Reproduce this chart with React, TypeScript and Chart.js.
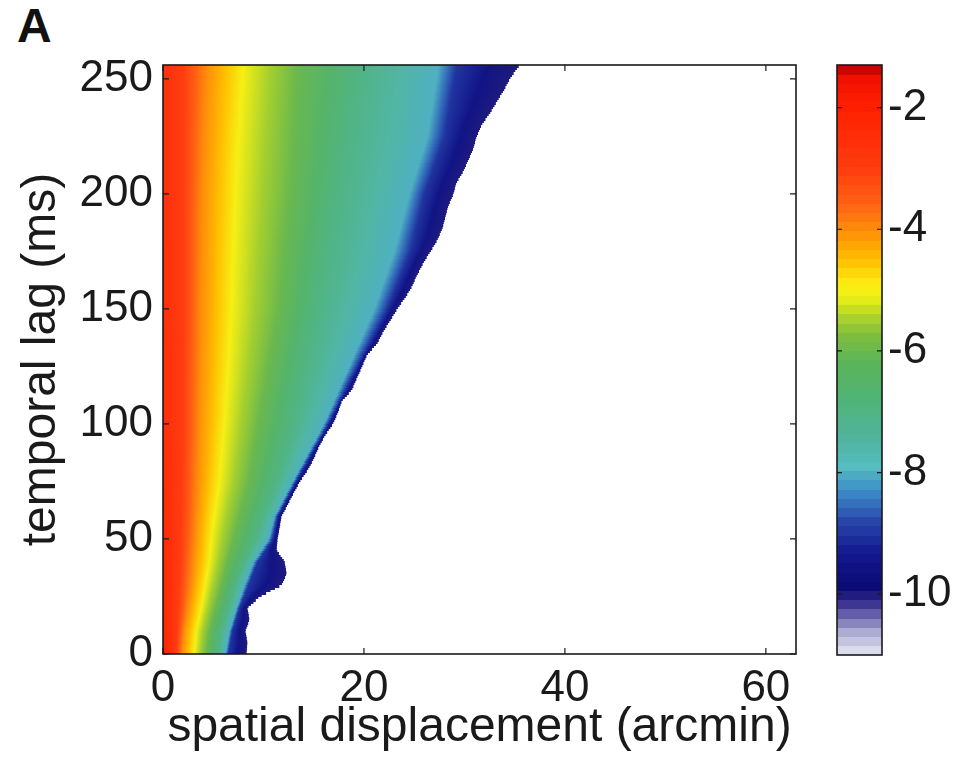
import React, { useEffect, useRef } from 'react';
import { Chart, registerables } from 'chart.js';

Chart.register(...registerables);

// ---------- axes ----------
const X_TICKS = [0, 20, 40, 60];
const Y_TICKS = [0, 50, 100, 150, 200, 250];
const CB_TICKS = [-10, -8, -6, -4, -2];
const X_MIN = 0;
const X_MAX = 63;
const Y_MIN = 0;
const Y_MAX = 256;
const CB_MIN = -11;
const CB_MAX = -1.3;
const CB_STEPS = 64;

// ---------- colormap (value -> colour) ----------
const CMAP_VALUES = [-1.3, -1.5, -2.0, -3.0, -3.6, -4.0, -4.5, -4.9, -5.1, -5.4, -5.7, -6.2, -6.8, -7.4, -7.9, -8.3, -8.8, -9.3, -9.9, -10.2, -10.6, -11.0];
const CMAP_COLORS = ['#b40000', '#f01000', '#ff2000', '#ff3c10', '#ff6414', '#ff8c0a', '#ffbe00', '#fcee14', '#f0f014', '#b4d728', '#82be3c', '#5ab45a', '#50b478', '#50b49b', '#55bcc0', '#3c8cc8', '#2846aa', '#141990', '#0a0a73', '#463c96', '#aaaad2', '#e6e6f5'];

// ---------- heat-map data ----------
// rows of temporal lag (ms); for each, the spatial displacement (arcmin) where the
// log-value crosses each contour level
const ROW_LAGS = [0, 10, 20, 30, 40, 50, 60, 75, 100, 125, 150, 175, 200, 225, 250, 256];
const VALUE_AT_ZERO = [-2.0, -2.1, -2.2, -2.25, -2.3, -2.35, -2.4, -2.45, -2.5, -2.5, -2.55, -2.55, -2.6, -2.6, -2.6, -2.6];
const CONTOUR_LEVELS = [-3, -4, -5, -6, -7, -8, -9];
const X_AT_M3 = [1.3, 1.4, 1.5, 1.6, 1.7, 1.8, 1.85, 1.9, 2.0, 2.0, 2.0, 2.0, 2.0, 2.0, 2.0, 2.0];
const X_AT_M4 = [1.9, 2.1, 2.5, 2.8, 3.0, 3.2, 3.3, 3.45, 3.6, 3.7, 3.8, 3.85, 3.9, 4.1, 4.3, 4.35];
const X_AT_M5 = [3.1, 3.3, 3.8, 4.2, 4.6, 4.8, 5.1, 5.6, 6.1, 6.5, 6.8, 7.0, 7.2, 7.5, 7.9, 8.0];
const X_AT_M6 = [4.3, 4.6, 5.2, 5.8, 6.4, 7.0, 7.6, 8.5, 9.5, 10.5, 11.5, 12.0, 12.6, 13.0, 13.3, 13.4];
const X_AT_M7 = [5.4, 5.8, 6.5, 7.2, 8.1, 9.2, 10.0, 11.3, 13.0, 14.3, 15.5, 16.5, 17.5, 18.5, 19.5, 19.7];
const X_AT_M8 = [6.2, 6.6, 7.3, 8.1, 9.0, 10.5, 11.1, 12.9, 16.0, 18.5, 21.0, 23.0, 24.5, 26.3, 27.2, 27.4];
const X_AT_M9 = [6.5, 6.9, 7.6, 8.5, 9.4, 10.9, 11.4, 13.2, 16.4, 19.3, 22.3, 24.6, 26.0, 28.0, 29.0, 29.3];
const CONTOUR_X = [X_AT_M3, X_AT_M4, X_AT_M5, X_AT_M6, X_AT_M7, X_AT_M8, X_AT_M9];

// outer edge of the data (beyond it: no data, white)
const EDGE_LAGS = [0, 5, 10, 15, 20, 25, 30, 35, 40, 45, 50, 55, 60, 65, 70, 75, 80, 85, 90, 95, 100, 105, 110, 115, 120, 125, 130, 135, 140, 145, 150, 155, 160, 165, 170, 175, 180, 185, 190, 195, 200, 205, 210, 215, 220, 225, 230, 235, 240, 245, 250, 255, 256];
const EDGE_X = [8.3, 8.4, 8.2, 8.6, 8.4, 9.6, 11.8, 12.3, 12.1, 11.3, 11.4, 11.6, 11.8, 12.4, 13.0, 13.6, 14.4, 15.0, 15.5, 16.1, 16.9, 17.4, 17.8, 18.8, 19.3, 19.8, 20.3, 21.3, 21.9, 22.6, 23.3, 24.1, 24.8, 25.3, 25.9, 26.6, 27.3, 27.8, 28.1, 28.4, 28.9, 29.2, 29.9, 30.4, 30.9, 31.2, 31.7, 32.5, 33.2, 33.9, 34.5, 35.3, 35.5];
const EDGE_VALUE = -10;

const FONT_FAMILY = '"Liberation Sans", Arial, Helvetica, sans-serif';
const TEXT_COLOR = '#1a1a1a';

function interp(xs: number[], ys: number[], x: number): number {
  if (x <= xs[0]) return ys[0];
  for (let i = 1; i < xs.length; i++) {
    if (x <= xs[i]) {
      const t = (x - xs[i - 1]) / (xs[i] - xs[i - 1]);
      return ys[i - 1] + t * (ys[i] - ys[i - 1]);
    }
  }
  return ys[ys.length - 1];
}

function hexToRgb(h: string): number[] {
  return [parseInt(h.slice(1, 3), 16), parseInt(h.slice(3, 5), 16), parseInt(h.slice(5, 7), 16)];
}
const CMAP_RGB = CMAP_COLORS.map(hexToRgb);

function cmap(v: number): string {
  if (v >= CMAP_VALUES[0]) return CMAP_COLORS[0];
  for (let i = 1; i < CMAP_VALUES.length; i++) {
    if (v >= CMAP_VALUES[i]) {
      const t = (CMAP_VALUES[i - 1] - v) / (CMAP_VALUES[i - 1] - CMAP_VALUES[i]);
      const a = CMAP_RGB[i - 1];
      const b = CMAP_RGB[i];
      return `rgb(${Math.round(a[0] + t * (b[0] - a[0]))},${Math.round(a[1] + t * (b[1] - a[1]))},${Math.round(a[2] + t * (b[2] - a[2]))})`;
    }
  }
  return CMAP_COLORS[CMAP_COLORS.length - 1];
}

const heatmapPlugin = {
  id: 'heatmap',
  beforeDatasetsDraw(chart: any) {
    const { ctx, chartArea, scales } = chart;
    const xs = scales.x;
    const ys = scales.y;
    ctx.save();
    ctx.beginPath();
    ctx.rect(chartArea.left, chartArea.top, chartArea.right - chartArea.left, chartArea.bottom - chartArea.top);
    ctx.clip();
    for (let j = Y_MIN; j < Y_MAX; j++) {
      const lag = j + 0.5;
      const v0 = interp(ROW_LAGS, VALUE_AT_ZERO, lag);
      const edge = interp(EDGE_LAGS, EDGE_X, lag);
      const cx = CONTOUR_X.map((arr) => interp(ROW_LAGS, arr, lag));
      // keep contours ordered and inside the edge
      let limit = edge - 0.25;
      for (let k = cx.length - 1; k >= 0; k--) {
        if (cx[k] > limit) cx[k] = limit;
        limit = cx[k] - 0.05;
      }
      const stopX = [0, ...cx, edge];
      const stopV = [v0, ...CONTOUR_LEVELS, EDGE_VALUE];
      const p0 = xs.getPixelForValue(0);
      const p1 = xs.getPixelForValue(edge);
      const grad = ctx.createLinearGradient(p0, 0, p1, 0);
      let last = 0;
      const add = (xv: number, val: number) => {
        let pos = (xs.getPixelForValue(xv) - p0) / (p1 - p0);
        pos = Math.min(1, Math.max(last, pos));
        last = pos;
        grad.addColorStop(pos, cmap(val));
      };
      for (let k = 0; k < stopX.length; k++) {
        add(stopX[k], stopV[k]);
        if (k < stopX.length - 1) {
          add((stopX[k] + stopX[k + 1]) / 2, (stopV[k] + stopV[k + 1]) / 2);
        }
      }
      const yTop = ys.getPixelForValue(j + 1);
      const yBot = ys.getPixelForValue(j);
      ctx.fillStyle = grad;
      ctx.fillRect(p0, Math.floor(yTop), p1 - p0, Math.ceil(yBot) - Math.floor(yTop));
    }
    ctx.restore();
  },
  afterDraw(chart: any) {
    const { ctx, chartArea, scales } = chart;
    const { left, right, top, bottom } = chartArea;
    ctx.save();
    ctx.strokeStyle = '#1a1a1a';
    ctx.lineWidth = 1.6;
    ctx.strokeRect(left, top, right - left, bottom - top);
    ctx.lineWidth = 1.2;
    const tl = 6;
    ctx.beginPath();
    X_TICKS.forEach((v) => {
      const px = scales.x.getPixelForValue(v);
      ctx.moveTo(px, bottom);
      ctx.lineTo(px, bottom - tl);
      ctx.moveTo(px, top);
      ctx.lineTo(px, top + tl);
    });
    Y_TICKS.forEach((v) => {
      const py = scales.y.getPixelForValue(v);
      ctx.moveTo(left, py);
      ctx.lineTo(left + tl, py);
      ctx.moveTo(right, py);
      ctx.lineTo(right - tl, py);
    });
    ctx.stroke();
    ctx.restore();
  },
};

const colorbarPlugin = {
  id: 'colorbar',
  beforeDatasetsDraw(chart: any) {
    const { ctx, chartArea, scales } = chart;
    const ys = scales.y;
    const step = (CB_MAX - CB_MIN) / CB_STEPS;
    ctx.save();
    for (let i = 0; i < CB_STEPS; i++) {
      const lo = CB_MIN + i * step;
      const hi = lo + step;
      const yTop = ys.getPixelForValue(hi);
      const yBot = ys.getPixelForValue(lo);
      ctx.fillStyle = cmap((lo + hi) / 2);
      ctx.fillRect(chartArea.left, Math.floor(yTop), chartArea.right - chartArea.left, Math.ceil(yBot) - Math.floor(yTop));
    }
    ctx.restore();
  },
  afterDraw(chart: any) {
    const { ctx, chartArea, scales } = chart;
    const { left, right, top, bottom } = chartArea;
    ctx.save();
    ctx.strokeStyle = '#1a1a1a';
    ctx.lineWidth = 1.6;
    ctx.strokeRect(left, top, right - left, bottom - top);
    ctx.lineWidth = 1.2;
    const tl = 5;
    ctx.beginPath();
    CB_TICKS.forEach((v) => {
      const py = scales.y.getPixelForValue(v);
      ctx.moveTo(left, py);
      ctx.lineTo(left + tl, py);
      ctx.moveTo(right, py);
      ctx.lineTo(right - tl, py);
    });
    ctx.stroke();
    ctx.restore();
  },
};

const tickFont = { family: FONT_FAMILY, size: 44 };
const titleFont = { family: FONT_FAMILY, size: 48 };

export default function App() {
  const mainRef = useRef<HTMLCanvasElement | null>(null);
  const cbRef = useRef<HTMLCanvasElement | null>(null);

  useEffect(() => {
    if (!mainRef.current || !cbRef.current) return;
    const main = new Chart(mainRef.current, {
      type: 'scatter',
      data: { datasets: [{ data: [] }] },
      plugins: [heatmapPlugin],
      options: {
        animation: false,
        responsive: false,
        maintainAspectRatio: false,
        layout: { padding: { top: 65, right: 24, left: 0, bottom: 0 } },
        plugins: { legend: { display: false }, tooltip: { enabled: false } },
        scales: {
          x: {
            type: 'linear',
            min: X_MIN,
            max: X_MAX,
            afterBuildTicks: (s: any) => {
              s.ticks = X_TICKS.map((v) => ({ value: v }));
            },
            afterFit: (s: any) => {
              s.height = 108;
            },
            grid: { display: false, drawTicks: false },
            border: { display: false },
            ticks: { font: tickFont, color: TEXT_COLOR, padding: 8, maxRotation: 0, autoSkip: false },
            title: {
              display: true,
              text: 'spatial displacement (arcmin)',
              font: titleFont,
              color: TEXT_COLOR,
              padding: { top: 0, bottom: 5 },
            },
          },
          y: {
            type: 'linear',
            min: Y_MIN,
            max: Y_MAX,
            afterBuildTicks: (s: any) => {
              s.ticks = Y_TICKS.map((v) => ({ value: v }));
            },
            afterFit: (s: any) => {
              s.width = 163;
            },
            grid: { display: false, drawTicks: false },
            border: { display: false },
            ticks: { font: tickFont, color: TEXT_COLOR, padding: 10, autoSkip: false },
            title: {
              display: true,
              text: 'temporal lag (ms)',
              font: titleFont,
              color: TEXT_COLOR,
              padding: { top: 13, bottom: 0 },
            },
          },
        },
      } as any,
    });

    const cb = new Chart(cbRef.current, {
      type: 'scatter',
      data: { datasets: [{ data: [] }] },
      plugins: [colorbarPlugin],
      options: {
        animation: false,
        responsive: false,
        maintainAspectRatio: false,
        layout: { padding: { top: 65, right: 0, left: 17, bottom: 107 } },
        plugins: { legend: { display: false }, tooltip: { enabled: false } },
        scales: {
          x: { type: 'linear', display: false, min: 0, max: 1 },
          y: {
            type: 'linear',
            position: 'right',
            min: CB_MIN,
            max: CB_MAX,
            afterBuildTicks: (s: any) => {
              s.ticks = CB_TICKS.map((v) => ({ value: v }));
            },
            afterFit: (s: any) => {
              s.width = 82;
            },
            grid: { display: false, drawTicks: false },
            border: { display: false },
            ticks: { font: tickFont, color: TEXT_COLOR, padding: 6, autoSkip: false },
          },
        },
      } as any,
    });

    return () => {
      main.destroy();
      cb.destroy();
    };
  }, []);

  return (
    <div style={{ position: 'fixed', left: 0, top: 0, width: 964, height: 762, background: '#ffffff', overflow: 'hidden' }}>
      <div
        style={{
          position: 'absolute',
          left: 17,
          top: 2,
          fontFamily: FONT_FAMILY,
          fontWeight: 'bold',
          fontSize: 48,
          lineHeight: 1,
          color: '#111',
        }}
      >
        A
      </div>
      <canvas ref={mainRef} width={820} height={762} style={{ position: 'absolute', left: 0, top: 0, width: 820, height: 762 }} />
      <canvas ref={cbRef} width={144} height={762} style={{ position: 'absolute', left: 820, top: 0, width: 144, height: 762 }} />
    </div>
  );
}
